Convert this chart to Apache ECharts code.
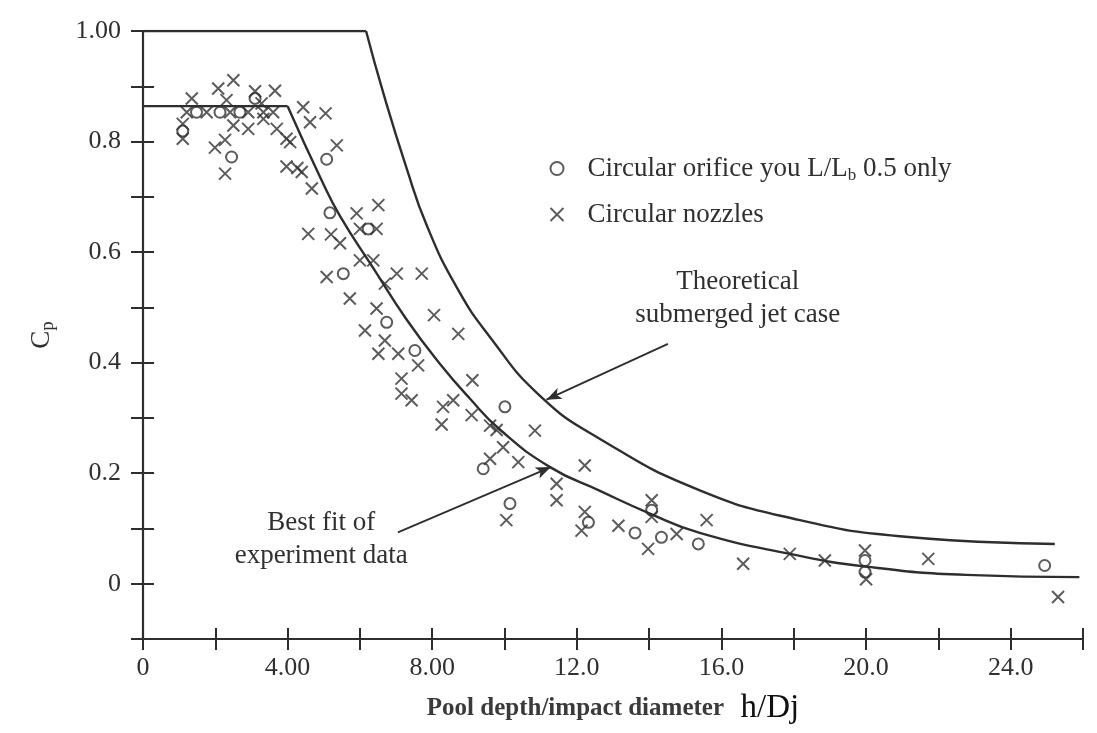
<!DOCTYPE html>
<html>
<head>
<meta charset="utf-8">
<script src="https://cdn.jsdelivr.net/npm/echarts@6/dist/echarts.min.js"></script>
<style>
html,body{margin:0;padding:0;background:#fff;}
#chart{width:1097px;height:733px;}
</style>
</head>
<body>
<div id="chart"></div>
<script>
// ---------- data ----------
const xLabelValues = [0, 4, 8, 12, 16, 20, 24];
const xLabelTexts = ['0', '4.00', '8.00', '12.0', '16.0', '20.0', '24.0'];
const yLabelValues = [0, 0.2, 0.4, 0.6, 0.8, 1.0];
const yLabelTexts = ['0', '0.2', '0.4', '0.6', '0.8', '1.00'];

const orificeName = 'Circular orifice you L/Lb 0.5 only';
const nozzleName = 'Circular nozzles';
const theoreticalName = 'Theoretical submerged jet case';
const bestFitName = 'Best fit of experiment data';

// Theoretical curve (first two points = flat core region)
const theoreticalCurve = [
  [0, 1.0], [6.17, 1.0], [6.65, 0.887], [7.29, 0.752], [7.85, 0.648], [8.67, 0.537],
  [9.60, 0.446], [10.98, 0.340], [12.64, 0.262], [15.4, 0.169], [18.17, 0.115],
  [20.93, 0.086], [25.22, 0.072]
];
// Best fit curve (first two points = flat region)
const bestFitCurve = [
  [0, 0.864], [4.0, 0.864], [4.94, 0.730], [5.45, 0.665], [6.37, 0.571], [7.29, 0.478],
  [8.21, 0.398], [9.04, 0.335], [9.87, 0.279], [11.26, 0.211], [12.64, 0.168],
  [14.02, 0.127], [15.4, 0.092], [17.89, 0.054], [20.0, 0.031], [22.77, 0.016], [25.9, 0.012]
];

const orificePoints = [
  [1.1, 0.819], [1.48, 0.853], [2.13, 0.853], [2.68, 0.853], [3.10, 0.878], [2.45, 0.772],
  [5.08, 0.768], [5.17, 0.671], [6.23, 0.642], [5.54, 0.561], [6.74, 0.473], [7.52, 0.422],
  [10.01, 0.320], [9.41, 0.208], [10.15, 0.145], [12.32, 0.111], [13.61, 0.092], [14.07, 0.133],
  [14.34, 0.084], [15.36, 0.072], [19.97, 0.042], [19.97, 0.021], [24.94, 0.033]
];

const nozzlePoints = [
  [1.1, 0.832], [1.1, 0.805], [1.35, 0.878], [1.21, 0.853], [1.76, 0.853], [2.41, 0.853],
  [2.91, 0.853], [3.33, 0.853], [2.08, 0.896], [2.50, 0.911], [2.31, 0.875], [3.10, 0.891],
  [3.65, 0.892], [3.28, 0.869], [3.33, 0.841], [3.60, 0.853], [2.50, 0.829], [2.91, 0.823],
  [3.70, 0.823], [4.07, 0.799], [3.97, 0.805], [1.99, 0.789], [2.27, 0.803], [2.27, 0.742],
  [4.43, 0.862], [4.62, 0.835], [5.05, 0.851], [3.97, 0.755], [4.27, 0.752], [4.39, 0.745],
  [4.67, 0.715], [5.36, 0.793], [5.91, 0.670], [6.51, 0.685], [4.57, 0.633], [5.20, 0.632],
  [5.45, 0.616], [6.0, 0.642], [6.46, 0.642], [6.0, 0.585], [6.37, 0.585], [5.08, 0.555],
  [6.69, 0.543], [7.02, 0.561], [7.71, 0.561], [5.72, 0.516], [6.46, 0.498], [8.05, 0.486],
  [6.14, 0.458], [6.69, 0.440], [6.51, 0.416], [7.06, 0.416], [7.61, 0.395], [8.72, 0.452],
  [7.15, 0.371], [7.15, 0.344], [7.43, 0.332], [8.30, 0.320], [8.58, 0.332], [8.26, 0.288],
  [9.11, 0.368], [9.09, 0.305], [9.6, 0.286], [9.78, 0.278], [10.84, 0.277], [9.96, 0.247],
  [10.38, 0.220], [9.6, 0.226], [12.22, 0.214], [11.44, 0.181], [11.44, 0.151], [10.05, 0.115],
  [12.22, 0.130], [12.13, 0.096], [13.15, 0.105], [14.07, 0.151], [14.07, 0.121], [14.76, 0.090],
  [13.97, 0.063], [15.59, 0.115], [16.6, 0.036], [17.89, 0.054], [18.86, 0.042], [19.97, 0.060],
  [20.0, 0.008], [21.72, 0.045], [25.31, -0.024]
];

// annotation arrows: [start, end] in data coordinates
const arrowTheoretical = [[14.52, 0.434], [11.16, 0.333]];
const arrowBestFit = [[7.05, 0.093], [11.28, 0.211]];
const annotationTexts = ['Theoretical\nsubmerged jet case', 'Best fit of\nexperiment data'];
const annotationCoords = [[16.45, 0.516], [4.93, 0.080]];

// ---------- chart ----------
const FONT = '"Liberation Serif", "DejaVu Serif", serif';
const INK = '#2e2e2e';
const TXT = '#303030';

const chart = echarts.init(document.getElementById('chart'));

function xFmt(v) {
  for (let i = 0; i < xLabelValues.length; i++) {
    if (Math.abs(xLabelValues[i] - v) < 1e-6) return xLabelTexts[i];
  }
  return '';
}
function yFmt(v) {
  for (let i = 0; i < yLabelValues.length; i++) {
    if (Math.abs(yLabelValues[i] - v) < 1e-6) return yLabelTexts[i];
  }
  return '';
}

const crossPath = 'path://M0,0L10,10M10,0L0,10';

const baseX = {
  type: 'value', min: 0, max: 26, interval: 2, position: 'bottom', gridIndex: 0,
  splitLine: { show: false }
};
const baseY = {
  type: 'value', min: -0.1, max: 1.0, interval: 0.1, position: 'left', gridIndex: 0,
  splitLine: { show: false }
};

const option = {
  animation: false,
  backgroundColor: '#fff',
  grid: { left: 143, right: 14, top: 31, bottom: 94, containLabel: false, outerBoundsMode: 'none' },
  legend: {
    orient: 'vertical', left: 548, top: 153, padding: 0,
    itemWidth: 13, itemHeight: 13, itemGap: 17,
    data: [orificeName, nozzleName],
    formatter: function (name) {
      if (name === orificeName) return '{t|Circular orifice you L/L}{s|b}{t| 0.5 only}';
      return '{t|' + name + '}';
    },
    textStyle: {
      fontFamily: FONT, fontSize: 27, color: TXT, padding: [0, 0, 0, 19],
      rich: {
        t: { fontFamily: FONT, fontSize: 27, color: TXT, lineHeight: 27 },
        s: { fontFamily: FONT, fontSize: 17, color: TXT, lineHeight: 27, padding: [14, 0, 0, 0] }
      }
    }
  },
  xAxis: [
    Object.assign({}, baseX, {
      name: '{a|Pool depth/impact diameter}{b|  h/Dj}',
      nameLocation: 'middle', nameGap: 53,
      nameTextStyle: {
        rich: {
          a: { fontFamily: FONT, fontSize: 25, fontWeight: 'bold', color: '#3a3a3a' },
          b: { fontFamily: FONT, fontSize: 33, color: '#111' }
        }
      },
      axisLine: { show: true, onZero: false, lineStyle: { color: INK, width: 2.2 } },
      axisTick: { show: true, inside: false, length: 11, lineStyle: { color: INK, width: 2 } },
      axisLabel: { show: true, margin: 16, fontFamily: FONT, fontSize: 26, color: TXT, formatter: xFmt }
    }),
    Object.assign({}, baseX, {
      axisLine: { show: false, onZero: false },
      axisTick: { show: true, inside: true, length: 11, lineStyle: { color: INK, width: 2 } },
      axisLabel: { show: false }
    })
  ],
  yAxis: [
    Object.assign({}, baseY, {
      name: '{c|C}{p|p}',
      nameLocation: 'middle', nameGap: 86, nameRotate: 90,
      nameTextStyle: {
        rich: {
          c: { fontFamily: FONT, fontSize: 27, color: TXT, lineHeight: 30 },
          p: { fontFamily: FONT, fontSize: 19, color: TXT, lineHeight: 30, padding: [12, 0, 0, 0] }
        }
      },
      axisLine: { show: true, onZero: false, lineStyle: { color: INK, width: 2.2 } },
      axisTick: { show: true, inside: false, length: 12, lineStyle: { color: INK, width: 2 } },
      axisLabel: { show: true, margin: 22, fontFamily: FONT, fontSize: 26, color: TXT, formatter: yFmt }
    }),
    Object.assign({}, baseY, {
      axisLine: { show: false, onZero: false },
      axisTick: { show: true, inside: true, length: 11, lineStyle: { color: INK, width: 2 } },
      axisLabel: { show: false }
    })
  ],
  series: [
    {
      name: theoreticalName + ' (core)', type: 'line', data: theoreticalCurve.slice(0, 2),
      showSymbol: false, silent: true, lineStyle: { color: INK, width: 2.4 }
    },
    {
      name: theoreticalName, type: 'line', data: theoreticalCurve.slice(1),
      showSymbol: false, silent: true, smooth: 0.5,
      lineStyle: { color: INK, width: 2.4 },
      markLine: {
        silent: true, symbol: ['none', 'arrow'], symbolSize: [9, 15],
        lineStyle: { color: INK, width: 1.8, type: 'solid' },
        label: { show: false },
        data: [
          [{ coord: arrowTheoretical[0] }, { coord: arrowTheoretical[1] }],
          [{ coord: arrowBestFit[0] }, { coord: arrowBestFit[1] }]
        ]
      },
      markPoint: {
        silent: true, symbol: 'rect', symbolSize: 1,
        itemStyle: { color: 'rgba(0,0,0,0)' },
        label: {
          show: true, position: 'inside', fontFamily: FONT, fontSize: 27, color: TXT,
          lineHeight: 33, align: 'center', formatter: function (p) { return p.name; }
        },
        data: [
          { name: annotationTexts[0], coord: annotationCoords[0] },
          { name: annotationTexts[1], coord: annotationCoords[1] }
        ]
      }
    },
    {
      name: bestFitName + ' (flat)', type: 'line', data: bestFitCurve.slice(0, 2),
      showSymbol: false, silent: true, lineStyle: { color: INK, width: 2.4 }
    },
    {
      name: bestFitName, type: 'line', data: bestFitCurve.slice(1),
      showSymbol: false, silent: true, smooth: 0.5,
      lineStyle: { color: INK, width: 2.4 }
    },
    {
      name: orificeName, type: 'scatter', data: orificePoints,
      symbol: 'circle', symbolSize: 11,
      itemStyle: { color: 'rgba(0,0,0,0)', borderColor: '#333', borderWidth: 2 }
    },
    {
      name: nozzleName, type: 'scatter', data: nozzlePoints,
      symbol: crossPath, symbolSize: 12,
      itemStyle: { color: 'none', borderColor: '#333', borderWidth: 2 }
    }
  ]
};

chart.setOption(option);
</script>
</body>
</html>
